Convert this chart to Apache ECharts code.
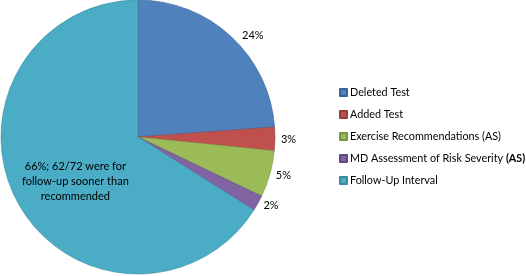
<!DOCTYPE html>
<html>
<head>
<meta charset="utf-8">
<script src="https://cdn.jsdelivr.net/npm/echarts@6/dist/echarts.min.js"></script>
<style>html,body{margin:0;padding:0;background:#fff}#c{width:526px;height:276px}</style>
</head>
<body>
<div id="c"></div>
<script>
var categories = ['Deleted Test', 'Added Test', 'Exercise Recommendations (AS)', 'MD Assessment of Risk Severity (AS)', 'Follow-Up Interval'];
var counts = [26, 3, 6, 2, 72];
var labelTexts = ['24%', '3%', '5%', '2%', '66%; 62/72 were for\nfollow-up sooner than\nrecommended'];
var colors = ['#4F81BD', '#C0504D', '#9BBB59', '#8064A2', '#4BACC6'];
var borders = ['#3A6496', '#96403D', '#7A9445', '#62497F', '#3A8A9F'];

var FONT = 'Lato, "Open Sans", sans-serif';
var data = categories.map(function (c, i) {
  var item = {
    name: c,
    value: counts[i],
    itemStyle: { color: colors[i], borderColor: borders[i], borderWidth: 0.6 },
    label: { formatter: labelTexts[i] }
  };
  if (i === 0) {
    item.label.offset = [6, 2];
  }
  if (i === 4) {
    item.label.position = 'inside';
    item.label.lineHeight = 15;
    item.label.offset = [0, 10];
  }
  return item;
});

var chart = echarts.init(document.getElementById('c'), null, { renderer: 'canvas' });
chart.setOption({
  animation: false,
  backgroundColor: '#fff',
  color: colors,
  legend: {
    orient: 'vertical',
    left: 334,
    top: 82,
    itemWidth: 7,
    itemHeight: 7,
    itemGap: 11,
    icon: 'rect',
    textStyle: {
      fontFamily: FONT, fontSize: 10.8, color: '#000', padding: [0, 0, 0, -2],
      rich: { b: { fontFamily: FONT, fontSize: 10.8, fontWeight: 'bold', color: '#000' } }
    },
    formatter: function (name) {
      if (name.indexOf('MD Assessment') === 0) {
        return 'MD Assessment of Risk Severity {b|(AS)}';
      }
      return name;
    },
    data: categories
  },
  series: [{
    type: 'pie',
    center: [138, 137],
    radius: [0, 137],
    startAngle: 90,
    clockwise: true,
    avoidLabelOverlap: false,
    label: {
      show: true,
      position: 'outside',
      fontFamily: FONT,
      fontSize: 11,
      color: '#000',
      distanceToLabelLine: 2
    },
    labelLine: { show: false, length: 4, length2: 0 },
    emphasis: { disabled: true },
    data: data
  }]
});
</script>
</body>
</html>
